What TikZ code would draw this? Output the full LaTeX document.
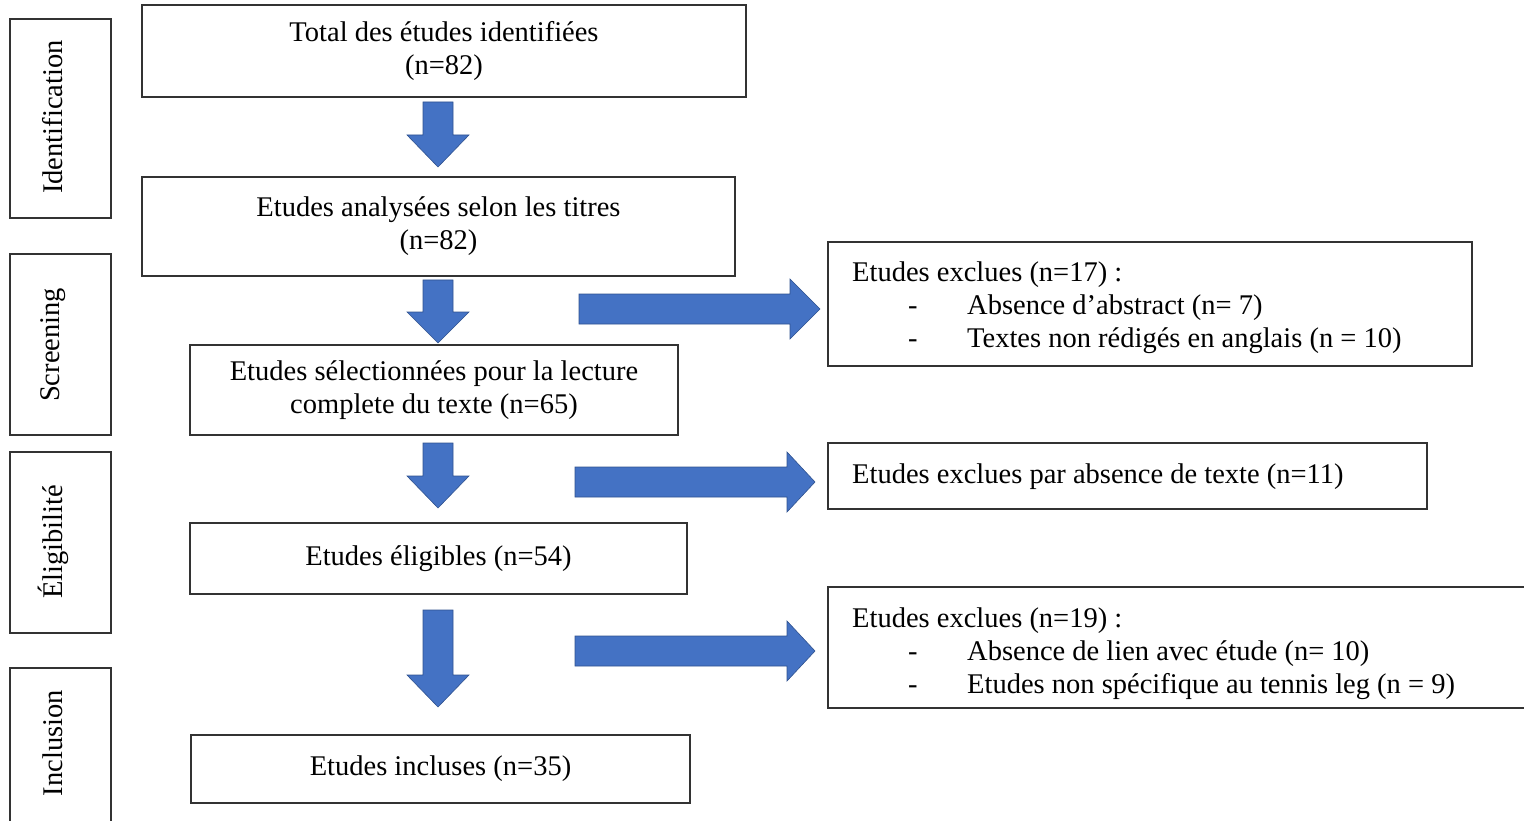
\documentclass[tikz,border=0pt]{standalone}
\usepackage{fontspec}
\setmainfont{Liberation Serif}
\definecolor{arrowblue}{HTML}{4472C4}
\definecolor{arrowdark}{HTML}{2F528F}
\definecolor{boxline}{HTML}{333333}
\tikzset{
  box/.style={draw=boxline, line width=1.2pt, inner sep=0pt, align=center,
    font=\fontsize{28.5}{33}\selectfont},
  sidebox/.style={draw=boxline, line width=1.2pt, inner sep=0pt},
  sidelabel/.style={rotate=90, font=\fontsize{28.5}{30}\selectfont, inner sep=0pt},
  txt/.style={anchor=base west, inner sep=0pt, font=\fontsize{28.5}{33}\selectfont},
  blockarrow/.style={fill=arrowblue, draw=arrowdark, line width=0.6pt, line join=miter}
}
% down arrow: x center, y top, y head, y tip
\newcommand\downblock[4]{%
  \draw[blockarrow] (#1-15,#2) -- (#1+15,#2) -- (#1+15,#3) -- (#1+31,#3) -- (#1,#4)
    -- (#1-31,#3) -- (#1-15,#3) -- cycle;}
% right arrow: x start, x head, x tip, y center
\newcommand\rightblock[4]{%
  \draw[blockarrow] (#1,#4-15) -- (#2,#4-15) -- (#2,#4-30) -- (#3,#4) -- (#2,#4+30)
    -- (#2,#4+15) -- (#1,#4+15) -- cycle;}
\begin{document}
\begin{tikzpicture}[x=1pt,y=-1pt]
\useasboundingbox (0,0) rectangle (1524,821);
% side boxes
\node[sidebox, minimum width=101pt, minimum height=199pt] (s1) at (60.5,118.5) {};
\node[sidelabel] (l1) at (53,117) {Identification};
\node[sidebox, minimum width=101pt, minimum height=181pt] (s2) at (60.5,344.5) {};
\node[sidelabel] (l2) at (53,345) {Screening};
\node[sidebox, minimum width=101pt, minimum height=181pt] (s3) at (60.5,542.5) {};
\node[sidelabel] (l3) at (53,542) {Éligibilité};
\draw[boxline, line width=1.2pt] (10,830) -- (10,668) -- (111,668) -- (111,830);
\node[sidelabel] (l4) at (53,743) {Inclusion};
% main boxes
\node[box, minimum width=604pt, minimum height=92pt] (b1) at (444,51) {Total des études identifiées\\(n=82)};
\node[box, minimum width=593pt, minimum height=99pt] (b2) at (438.5,226.5) {Etudes analysées selon les titres\\(n=82)};
\node[box, minimum width=488pt, minimum height=90pt] (b3) at (434,390) {Etudes sélectionnées pour la lecture\\complete du texte (n=65)};
\node[box, minimum width=497pt, minimum height=71pt] (b4) at (438.5,558.5) {Etudes éligibles (n=54)};
\node[box, minimum width=499pt, minimum height=68pt] (b5) at (440.5,769) {Etudes incluses (n=35)};
% down arrows
\downblock{438}{102}{135}{167}
\downblock{438}{280}{312}{343}
\downblock{438}{443}{476}{508}
\downblock{438}{610}{675}{707}
% right boxes
\node[box, minimum width=644pt, minimum height=124pt] (r1) at (1150,304) {};
\node[txt] (r1a) at (852,281) {Etudes exclues (n=17) :};
\node[txt] (r1b) at (908,314) {-};
\node[txt] (r1c) at (967,314) {Absence d’abstract (n= 7)};
\node[txt] (r1d) at (908,347) {-};
\node[txt] (r1e) at (967,347) {Textes non rédigés en anglais (n = 10)};
\node[box, minimum width=599pt, minimum height=66pt] (r2) at (1127.5,476) {};
\node[txt] (r2a) at (852,483) {Etudes exclues par absence de texte (n=11)};
\draw[boxline, line width=1.2pt] (1530,587) -- (828,587) -- (828,708) -- (1530,708);
\coordinate (r3) at (828,647);
\node[txt] (r3a) at (852,627) {Etudes exclues (n=19) :};
\node[txt] (r3b) at (908,660) {-};
\node[txt] (r3c) at (967,660) {Absence de lien avec étude (n= 10)};
\node[txt] (r3d) at (908,693) {-};
\node[txt] (r3e) at (967,693) {Etudes non spécifique au tennis leg (n = 9)};
% right arrows
\rightblock{579}{790}{820}{309}
\rightblock{575}{787}{815}{482}
\rightblock{575}{787}{815}{651}
\end{tikzpicture}
\end{document}
